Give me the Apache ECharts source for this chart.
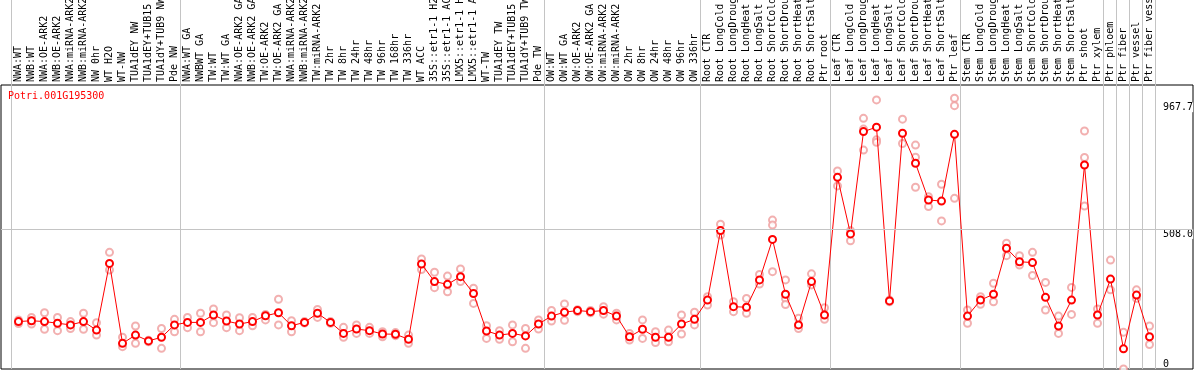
<!DOCTYPE html>
<html>
<head>
<meta charset="utf-8">
<script src="https://cdn.jsdelivr.net/npm/echarts@6/dist/echarts.min.js"></script>
<style>
  html, body { margin: 0; padding: 0; background: #fff; }
  #chart { width: 1194px; height: 370px; }
</style>
</head>
<body>
<div id="chart"></div>
<script>
var geneName = 'Potri.001G195300';

var samples = [
  'NWA:WT', 'NWB:WT', 'NWA:OE-ARK2', 'NWB:OE-ARK2', 'NWA:miRNA-ARK2', 'NWB:miRNA-ARK2',
  'NW 0hr', 'WT H2O', 'WT-NW', 'TUA1dEY NW', 'TUA1dEY+TUB15 NW', 'TUA1dY+TUB9 NW', 'Pde NW',
  'NWA:WT GA', 'NWBWT GA', 'TW:WT', 'TW:WT GA', 'NWA:OE-ARK2 GA', 'NWB:OE-ARK2 GA',
  'TW:OE-ARK2', 'TW:OE-ARK2 GA', 'NWA:miRNA-ARK2 GA', 'NWB:miRNA-ARK2 GA', 'TW:miRNA-ARK2',
  'TW 2hr', 'TW 8hr', 'TW 24hr', 'TW 48hr', 'TW 96hr', 'TW 168hr', 'TW 336hr', 'WT ACC',
  '35S::etr1-1 H2O', '35S::etr1-1 ACC', 'LMX5::etr1-1 H2O', 'LMX5::etr1-1 ACC', 'WT-TW',
  'TUA1dEY TW', 'TUA1dEY+TUB15 TW', 'TUA1dY+TUB9 TW', 'Pde TW',
  'OW:WT', 'OW:WT GA', 'OW:OE-ARK2', 'OW:OE-ARK2 GA', 'OW:miRNA-ARK2', 'OW:miRNA-ARK2 GA',
  'OW 2hr', 'OW 8hr', 'OW 24hr', 'OW 48hr', 'OW 96hr', 'OW 336hr',
  'Root CTR', 'Root LongCold', 'Root LongDrought', 'Root LongHeat', 'Root LongSalt',
  'Root ShortCold', 'Root ShortDrought', 'Root ShortHeat', 'Root ShortSalt', 'Ptr root',
  'Leaf CTR', 'Leaf LongCold', 'Leaf LongDrought', 'Leaf LongHeat', 'Leaf LongSalt',
  'Leaf ShortCold', 'Leaf ShortDrought', 'Leaf ShortHeat', 'Leaf ShortSalt', 'Ptr leaf',
  'Stem CTR', 'Stem LongCold', 'Stem LongDrought', 'Stem LongHeat', 'Stem LongSalt',
  'Stem ShortCold', 'Stem ShortDrought', 'Stem ShortHeat', 'Stem ShortSalt', 'Ptr shoot',
  'Ptr xylem', 'Ptr phloem', 'Ptr fiber', 'Ptr vessel', 'Ptr fiber vessel'
];

// mean expression per sample
var means = [
  172, 175, 172, 166, 160, 172, 141, 383, 93, 123, 102, 115, 160,
  169, 169, 196, 174, 163, 172, 193, 204, 157, 169, 202, 169, 129, 145, 139, 127, 126,
  108, 381, 317, 307, 335, 274, 138, 123, 129, 120, 163,
  192, 206, 212, 208, 212, 192, 117, 144, 115, 115, 163, 180,
  250, 502, 226, 224, 323, 470, 271, 160, 317, 196,
  695, 490, 861, 877, 247, 855, 746, 613, 609, 851,
  192, 250, 271, 438, 389, 386, 260, 156, 250, 740, 196,
  326, 73, 268, 117
];

// replicate measurements
var rep1 = [
  178, 187, 204, 187, 172, 202, 168, 423, 115, 156, 104, 147, 180,
  187, 202, 218, 196, 186, 187, 198, 253, 175, 172, 216, 172, 151, 160, 151, 135, 132,
  123, 399, 351, 337, 363, 293, 157, 139, 160, 147, 178,
  212, 236, 215, 212, 226, 202, 129, 178, 135, 141, 196, 206,
  262, 525, 244, 256, 343, 540, 323, 184, 345, 222,
  718, 502, 909, 976, 250, 906, 812, 625, 670, 982,
  214, 262, 311, 456, 411, 423, 314, 192, 296, 863, 218,
  395, 133, 287, 156
];
var rep2 = [
  165, 163, 144, 139, 147, 144, 123, 359, 81, 93, 99, 75, 135,
  150, 135, 168, 150, 139, 157, 178, 160, 135, 167, 187, 166, 115, 129, 129, 117, 121,
  93, 361, 295, 280, 317, 238, 111, 108, 99, 75, 145,
  174, 177, 208, 204, 199, 178, 105, 111, 96, 99, 127, 160,
  232, 486, 208, 202, 308, 522, 256, 147, 305, 180,
  664, 465, 870, 831, 244, 818, 768, 589, 537, 955,
  166, 235, 244, 411, 377, 339, 214, 129, 198, 767, 166,
  287, 0, 256, 89
];
var rep3 = [];
for (var k = 0; k < samples.length; k++) rep3.push(null);
rep3[58] = 353; rep3[59] = 234; rep3[65] = 794; rep3[66] = 822;
rep3[69] = 659; rep3[72] = 619; rep3[82] = 591;

// first sample index of each block, a grey rule is drawn before it
var groupStarts = [0, 13, 41, 53, 63, 73, 84, 85, 86, 87];
var yLabels = [508.0, 967.7];
var yMin = 0;
var yMax = 1030;

var font = 'DejaVu Sans Mono';

var reps = [];
[rep1, rep2, rep3].forEach(function (arr) {
  arr.forEach(function (v, i) {
    if (v != null) reps.push([i, v]);
  });
});

var chart = echarts.init(document.getElementById('chart'));

chart.setOption({
  animation: false,
  backgroundColor: '#fff',
  title: {
    text: geneName,
    left: 8,
    top: 91,
    padding: 0,
    textStyle: { color: '#ff0000', fontFamily: font, fontSize: 10, fontWeight: 'normal' }
  },
  grid: [
    // data area
    { left: 12, right: 38, top: 85, bottom: 1, outerBoundsMode: 'none' },
    // outer frame
    { left: 1, right: 1, top: 85, bottom: 1, show: true, borderColor: '#000', borderWidth: 1,
      backgroundColor: 'transparent', outerBoundsMode: 'none' },
    // block separators, running through the label area
    { left: 11, right: 39, top: 0, bottom: 1, outerBoundsMode: 'none' }
  ],
  xAxis: [
    {
      type: 'category', gridIndex: 0, data: samples, position: 'top',
      axisLine: { show: false }, axisTick: { show: false }, splitLine: { show: false },
      axisLabel: { interval: 0, rotate: 90, margin: 3, color: '#000', fontFamily: font, fontSize: 10 }
    },
    { type: 'value', gridIndex: 1, min: 0, max: 1, show: false },
    {
      type: 'category', gridIndex: 2, data: samples,
      axisLine: { show: false }, axisTick: { show: false }, axisLabel: { show: false },
      splitLine: {
        show: true,
        interval: function (index) { return groupStarts.indexOf(index) >= 0; },
        lineStyle: { color: '#c4c4c4', width: 1 }
      }
    }
  ],
  yAxis: [
    { type: 'value', gridIndex: 0, min: yMin, max: yMax, show: false },
    {
      type: 'value', gridIndex: 1, min: yMin, max: yMax, position: 'right',
      axisLine: { show: false }, axisTick: { show: false }, splitLine: { show: false },
      axisLabel: {
        inside: true, margin: 30, align: 'left', verticalAlign: 'top',
        customValues: yLabels, color: '#000', fontFamily: font, fontSize: 10,
        backgroundColor: '#fff',
        formatter: function (v) { return v.toFixed(1); }
      }
    },
    {
      type: 'value', gridIndex: 1, min: yMin, max: yMax, position: 'right',
      axisLine: { show: false }, axisTick: { show: false }, splitLine: { show: false },
      axisLabel: {
        inside: true, margin: 30, align: 'left', verticalAlign: 'bottom',
        customValues: [yMin], color: '#000', fontFamily: font, fontSize: 10,
        formatter: function (v) { return String(v); }
      }
    },
    { type: 'value', gridIndex: 2, min: 0, max: 1, show: false }
  ],
  series: [
    {
      // horizontal rule at the middle tick
      type: 'line', xAxisIndex: 1, yAxisIndex: 1, data: [], z: 1,
      markLine: {
        silent: true, symbol: 'none', label: { show: false },
        lineStyle: { color: '#c4c4c4', type: 'solid', width: 1 },
        data: [{ yAxis: yLabels[0] }]
      }
    },
    {
      name: 'replicates', type: 'scatter', xAxisIndex: 0, yAxisIndex: 0, data: reps, z: 2,
      symbol: 'emptyCircle', symbolSize: 7,
      itemStyle: { color: '#ef9c9c', borderWidth: 1.2 }
    },
    {
      name: 'mean', type: 'line', xAxisIndex: 0, yAxisIndex: 0, data: means, z: 3,
      symbol: 'emptyCircle', symbolSize: 7,
      lineStyle: { color: '#ff0000', width: 1 },
      itemStyle: { color: '#ff0000', borderWidth: 1.8 }
    }
  ]
});
</script>
</body>
</html>
